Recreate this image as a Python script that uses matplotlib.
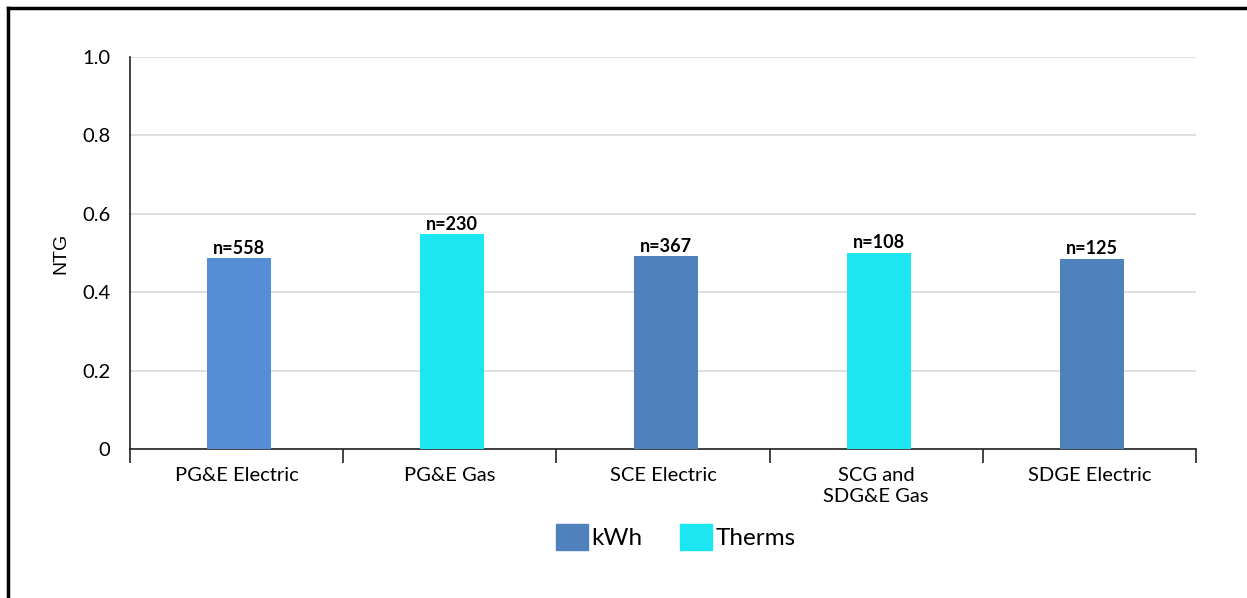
import matplotlib.pyplot as plt
from matplotlib.lines import Line2D
from matplotlib.patches import Patch

categories = ['PG&E Electric', 'PG&E Gas', 'SCE Electric', 'SCG and\nSDG&E Gas', 'SDGE Electric']
ntg = [0.487, 0.548, 0.492, 0.500, 0.485]
n_labels = ['n=558', 'n=230', 'n=367', 'n=108', 'n=125']
units = ['kWh', 'Therms', 'kWh', 'Therms', 'kWh']

col_kwh = '#4F81BD'
col_therms = '#1CE6EF'
bar_colors = ['#558ED5', col_therms, col_kwh, col_therms, col_kwh]

plt.rcParams['font.family'] = ['Lato', 'DejaVu Sans']

fig = plt.figure(figsize=(12.47, 5.98), dpi=100)
ax = fig.add_axes([130 / 1247, 1 - 449 / 598, (1196 - 130) / 1247, (449 - 57) / 598])

x = list(range(len(categories)))
bars = ax.bar([i + 0.012 for i in x], ntg, width=0.30, color=bar_colors, zorder=3)
for b, lab in zip(bars, n_labels):
    ax.text(b.get_x() + b.get_width() / 2, b.get_height() + 0.004, lab,
            ha='center', va='bottom', fontsize=13, fontweight='bold', zorder=4)

ax.set_xlim(-0.5, len(categories) - 0.5)
ax.set_ylim(0, 1.0)
ax.set_yticks([0, 0.2, 0.4, 0.6, 0.8, 1.0])
ax.set_yticklabels(['0', '0.2', '0.4', '0.6', '0.8', '1.0'], fontsize=14.5)
ax.grid(axis='y', color='#D9D9D9', linewidth=1.2, zorder=0)
ax.tick_params(axis='y', length=0, pad=14)

ax.set_xticks(x)
ax.set_xticklabels(categories, fontsize=14.5, linespacing=1.25)
ax.tick_params(axis='x', length=0, pad=13)
# category boundary ticks
ax.set_xticks([i - 0.5 for i in range(len(categories) + 1)], minor=True)
ax.tick_params(axis='x', which='minor', length=10, width=1.2, color='#222222', direction='out')

for s in ['top', 'right']:
    ax.spines[s].set_visible(False)
ax.spines['left'].set_color('#222222')
ax.spines['bottom'].set_color('#222222')
ax.spines['left'].set_linewidth(1.2)
ax.spines['bottom'].set_linewidth(1.2)

ax.set_ylabel('NTG', fontsize=14, family='Liberation Sans', labelpad=9)

handles = [Patch(color=col_kwh, label='kWh'), Patch(color=col_therms, label='Therms')]
fig.legend(handles=handles, loc='center', bbox_to_anchor=(676 / 1247, 1 - 537 / 598),
           ncol=2, frameon=False, fontsize=17.5, handlelength=1.3, handleheight=1.3,
           handletextpad=0.15, columnspacing=1.55)

# outer frame
fig.add_artist(Line2D([8 / 1247, 1], [1 - 8 / 598, 1 - 8 / 598], color='black', linewidth=2.5,
                      transform=fig.transFigure))
fig.add_artist(Line2D([8 / 1247, 8 / 1247], [0, 1 - 8 / 598], color='black', linewidth=2.5,
                      transform=fig.transFigure))

fig.savefig('out.png', dpi=100)
